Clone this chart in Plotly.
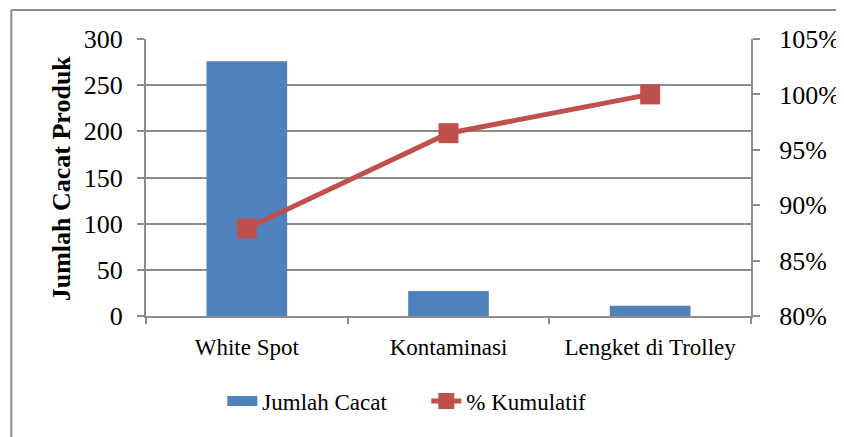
import plotly.graph_objects as go

categories = ["White Spot", "Kontaminasi", "Lengket di Trolley"]
jumlah_cacat = [276, 27, 11]
kumulatif = [0.879, 0.965, 1.00]
left_ticks = [0, 50, 100, 150, 200, 250, 300]
right_ticks = [0.80, 0.85, 0.90, 0.95, 1.00, 1.05]

OFF = 8  # page body margin
W, H = 844 - OFF, 437 - OFF
# plot area in page pixels
L, R, T, B = 145.7, 750.7, 39, 316
pw, ph = R - L, B - T

def px_x(x):
    return (x - L) / pw

def px_y(y):
    return (B - y) / ph

FONT = "Liberation Serif"
GRID = "#8c8c8c"

fig = go.Figure()
fig.add_trace(go.Bar(
    x=categories, y=jumlah_cacat, name="Jumlah Cacat",
    marker=dict(color="#4F81BD", line=dict(width=0)),
    width=0.4, yaxis="y", showlegend=False,
))
# legend entry for the bars (wide rectangle look)
fig.add_trace(go.Scatter(
    x=[None], y=[None], name="Jumlah Cacat", mode="lines",
    line=dict(color="#4F81BD", width=12), showlegend=True,
))
fig.add_trace(go.Scatter(
    x=categories, y=kumulatif, name="% Kumulatif", yaxis="y2",
    mode="lines+markers",
    line=dict(color="#C0504D", width=5),
    marker=dict(symbol="square", size=20, color="#C0504D"),
))

tf = dict(family=FONT, size=23, color="black")
yf = dict(family=FONT, size=26, color="black")

fig.update_layout(
    width=W, height=H,
    margin=dict(l=L - OFF, r=W - (R - OFF), t=T - OFF, b=H - (B - OFF), pad=0,
                autoexpand=False),
    paper_bgcolor="white", plot_bgcolor="white",
    font=tf,
    showlegend=True,
    legend=dict(orientation="h", x=px_x(222), y=px_y(401), xanchor="left",
                yanchor="middle", font=tf, entrywidth=159,
                bgcolor="rgba(0,0,0,0)"),
    xaxis=dict(
        showline=True, linecolor=GRID, linewidth=2, automargin=False,
        ticks="outside", ticklen=6, tickcolor=GRID, tickwidth=2,
        tickson="boundaries", showgrid=False, ticklabelstandoff=9,
        tickfont=tf,
    ),
    yaxis=dict(
        range=[0, 300], tickvals=left_ticks, automargin=False,
        showline=True, linecolor=GRID, linewidth=2,
        ticks="outside", ticklen=7, tickcolor=GRID, tickwidth=2,
        showgrid=True, gridcolor=GRID, gridwidth=2,
        zeroline=False, ticklabelstandoff=9,
        tickfont=yf,
    ),
    yaxis2=dict(
        range=[0.80, 1.05], tickvals=right_ticks, tickformat=".0%",
        overlaying="y", side="right", automargin=False,
        showline=True, linecolor=GRID, linewidth=2,
        ticks="outside", ticklen=7, tickcolor=GRID, tickwidth=2,
        showgrid=False, zeroline=False, ticklabelstandoff=14,
        tickfont=yf,
    ),
    annotations=[dict(
        text="<b>Jumlah Cacat Produk</b>", textangle=-90,
        xref="paper", yref="paper", x=px_x(61), y=px_y(178),
        xanchor="center", yanchor="middle", showarrow=False,
        font=dict(family=FONT, size=26, color="black"),
    )],
    shapes=[
        dict(type="line", xref="paper", yref="paper",
             x0=px_x(11), x1=px_x(11), y0=px_y(10), y1=px_y(440),
             line=dict(color=GRID, width=2)),
        dict(type="line", xref="paper", yref="paper",
             x0=px_x(11), x1=px_x(850), y0=px_y(10), y1=px_y(10),
             line=dict(color=GRID, width=2)),
    ],
)

fig.write_html("out.html")
